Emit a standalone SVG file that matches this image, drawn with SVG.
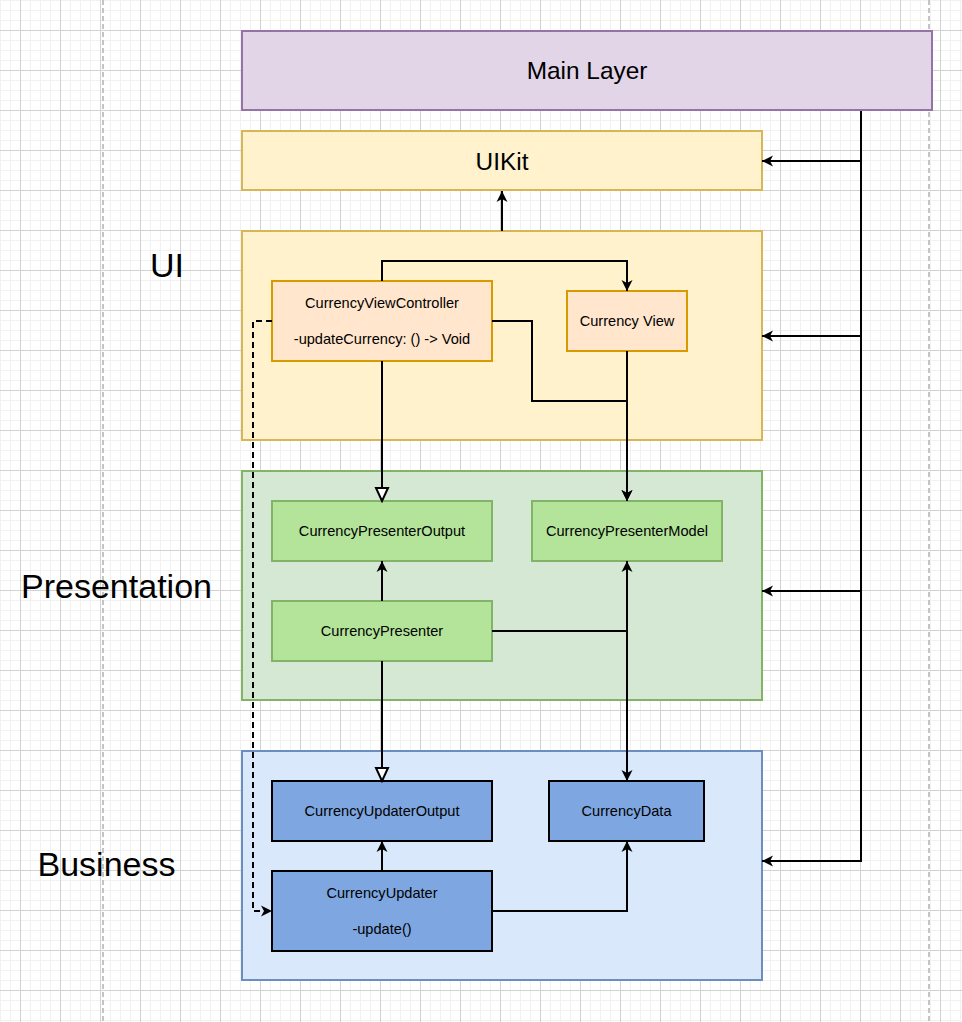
<svg xmlns="http://www.w3.org/2000/svg" width="962" height="1022" viewBox="0 0 962 1022">
<style>
text{font-family:"Liberation Sans",Arial,Helvetica,sans-serif;fill:#000;text-anchor:middle}
.node{font-size:14.6px}
.layer{font-size:34px}
.big{font-size:24.4px}
.c{fill:none;stroke:#000;stroke-width:2}
.ui-c{fill:#fff2cc;stroke:#d6b656;stroke-width:2}
.ui-n{fill:#ffe6cc;stroke:#d79b00;stroke-width:2}
.pr-c{fill:#d5e8d4;stroke:#82b366;stroke-width:2}
.pr-n{fill:#b3e49a;stroke:#82b366;stroke-width:2}
.bu-c{fill:#dae8fc;stroke:#6c8ebf;stroke-width:2}
.bu-n{fill:#7ea6e0;stroke:#000;stroke-width:2}
.main{fill:#e1d5e7;stroke:#9673a6;stroke-width:2}
.guide{stroke:#c4c4c4;stroke-width:2;stroke-dasharray:5 3}
</style>
<defs>
<pattern id="grid" width="40" height="40" patternUnits="userSpaceOnUse" x="20" y="30">
<path d="M10.5,0V40M20.5,0V40M30.5,0V40M0,10.5H40M0,20.5H40M0,30.5H40" stroke="#f1f1f1" stroke-width="1" fill="none"/>
<path d="M0.5,0V40M0,0.5H40" stroke="#d2d2d2" stroke-width="1" fill="none"/>
</pattern>
<marker id="arr" markerUnits="userSpaceOnUse" markerWidth="12" markerHeight="12" refX="11" refY="5.5" orient="auto" viewBox="0 0 12 11">
<path d="M0,0 L11,5.5 L0,11 L3,5.5 Z" fill="#000"/>
</marker>
<marker id="tri" markerUnits="userSpaceOnUse" markerWidth="16" markerHeight="16" refX="14" refY="7" orient="auto" viewBox="0 0 16 14">
<path d="M1,1 L14,7 L1,13 Z" fill="#fff" stroke="#000" stroke-width="2" stroke-linejoin="miter"/>
</marker>
</defs>
<rect width="962" height="1022" fill="#fff"/>
<rect width="962" height="1022" fill="url(#grid)"/>
<line class="guide" x1="103" y1="0" x2="103" y2="1022"/>
<line class="guide" x1="929" y1="0" x2="929" y2="1022"/>

<g id="main-layer">
<rect class="main" x="242" y="31" width="690" height="79"/>
<text class="big" x="587" y="79">Main Layer</text>
</g>
<g id="uikit">
<rect class="ui-c" x="242" y="131" width="520" height="59"/>
<text class="big" x="502" y="169.5">UIKit</text>
</g>
<g id="ui-layer">
<rect class="ui-c" x="242" y="231" width="520" height="209"/>
<text class="layer" x="167" y="277">UI</text>
</g>
<g id="presentation-layer">
<rect class="pr-c" x="242" y="471" width="520" height="229"/>
<text class="layer" x="116.5" y="598">Presentation</text>
</g>
<g id="business-layer">
<rect class="bu-c" x="242" y="751" width="520" height="229"/>
<text class="layer" x="106.5" y="876">Business</text>
</g>

<g id="currency-view-controller">
<rect class="ui-n" x="272" y="281" width="220" height="80"/>
<text class="node" x="382" y="308">CurrencyViewController</text>
<text class="node" x="382" y="344">-updateCurrency: () -&gt; Void</text>
</g>
<g id="currency-view">
<rect class="ui-n" x="567" y="291" width="120" height="60"/>
<text class="node" x="627" y="326">Currency View</text>
</g>
<g id="currency-presenter-output">
<rect class="pr-n" x="272" y="501" width="220" height="60"/>
<text class="node" x="382" y="536">CurrencyPresenterOutput</text>
</g>
<g id="currency-presenter-model">
<rect class="pr-n" x="532" y="501" width="190" height="60"/>
<text class="node" x="627" y="536">CurrencyPresenterModel</text>
</g>
<g id="currency-presenter">
<rect class="pr-n" x="272" y="601" width="220" height="60"/>
<text class="node" x="382" y="636">CurrencyPresenter</text>
</g>
<g id="currency-updater-output">
<rect class="bu-n" x="272" y="781" width="220" height="60"/>
<text class="node" x="382" y="816">CurrencyUpdaterOutput</text>
</g>
<g id="currency-data">
<rect class="bu-n" x="549" y="781" width="155" height="60"/>
<text class="node" x="626.5" y="816">CurrencyData</text>
</g>
<g id="currency-updater">
<rect class="bu-n" x="272" y="871" width="220" height="80"/>
<text class="node" x="382" y="898">CurrencyUpdater</text>
<text class="node" x="382" y="934">-update()</text>
</g>

<g id="connectors">
<path class="c" d="M861,111 V161 H762" marker-end="url(#arr)"/>
<path class="c" d="M861,111 V336 H762" marker-end="url(#arr)"/>
<path class="c" d="M861,111 V591 H762" marker-end="url(#arr)"/>
<path class="c" d="M861,111 V861 H762" marker-end="url(#arr)"/>
<path class="c" d="M502,231 V191" marker-end="url(#arr)"/>
<path class="c" d="M382,281 V261 H627 V291" marker-end="url(#arr)"/>
<path class="c" d="M492,321 H532 V401 H627 V501" marker-end="url(#arr)"/>
<path class="c" d="M627,351 V501" marker-end="url(#arr)"/>
<path class="c" d="M382,361 V501" marker-end="url(#tri)"/>
<path class="c" d="M382,601 V561" marker-end="url(#arr)"/>
<path class="c" d="M492,631 H627 V561" marker-end="url(#arr)"/>
<path class="c" d="M492,631 H627 V781" marker-end="url(#arr)"/>
<path class="c" d="M382,661 V781" marker-end="url(#tri)"/>
<path class="c" d="M382,871 V841" marker-end="url(#arr)"/>
<path class="c" d="M492,911 H627 V841" marker-end="url(#arr)"/>
<path class="c" d="M272,321 H253 V911 H272" stroke-dasharray="6 4" marker-end="url(#arr)"/>
</g>
</svg>
